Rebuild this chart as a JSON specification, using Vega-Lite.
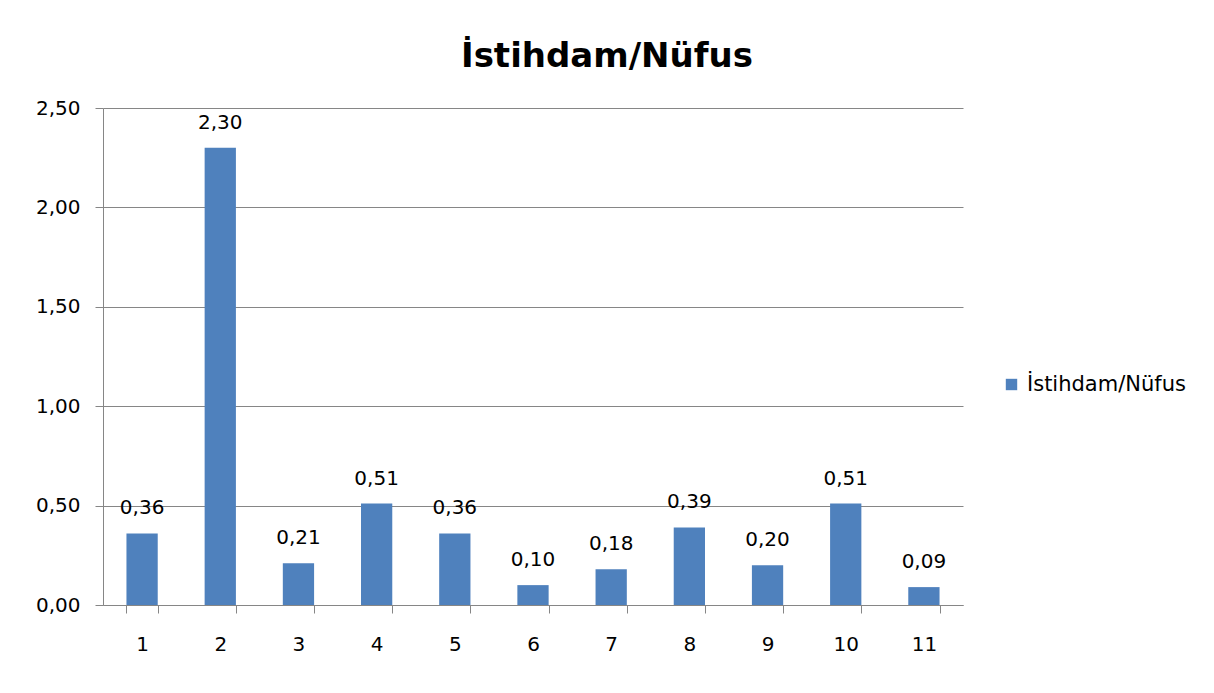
{
  "$schema": "https://vega.github.io/schema/vega-lite/v6.json",
  "autosize": {"type": "none"},
  "width": 860,
  "height": 497,
  "padding": {"left": 103, "top": 108, "right": 251, "bottom": 88},
  "background": "white",
  "title": {
    "text": "İstihdam/Nüfus",
    "font": "DejaVu Sans",
    "fontSize": 34,
    "fontWeight": "bold",
    "color": "#000000",
    "anchor": "middle",
    "dx": 74,
    "offset": 24
  },
  "config": {
    "locale": {"number": {"decimal": ",", "thousands": ".", "grouping": [3], "currency": ["", " TL"]}},
    "view": {"stroke": null},
    "font": "DejaVu Sans"
  },
  "data": {
    "values": [
      {"kategori": "1", "deger": 0.36, "seri": "İstihdam/Nüfus"},
      {"kategori": "2", "deger": 2.30, "seri": "İstihdam/Nüfus"},
      {"kategori": "3", "deger": 0.21, "seri": "İstihdam/Nüfus"},
      {"kategori": "4", "deger": 0.51, "seri": "İstihdam/Nüfus"},
      {"kategori": "5", "deger": 0.36, "seri": "İstihdam/Nüfus"},
      {"kategori": "6", "deger": 0.10, "seri": "İstihdam/Nüfus"},
      {"kategori": "7", "deger": 0.18, "seri": "İstihdam/Nüfus"},
      {"kategori": "8", "deger": 0.39, "seri": "İstihdam/Nüfus"},
      {"kategori": "9", "deger": 0.20, "seri": "İstihdam/Nüfus"},
      {"kategori": "10", "deger": 0.51, "seri": "İstihdam/Nüfus"},
      {"kategori": "11", "deger": 0.09, "seri": "İstihdam/Nüfus"}
    ]
  },
  "encoding": {
    "x": {
      "field": "kategori",
      "type": "ordinal",
      "sort": null,
      "scale": {"paddingInner": 0.6, "paddingOuter": 0.3},
      "axis": {
        "title": null,
        "labelAngle": 0,
        "labelFont": "DejaVu Sans",
        "labelFontSize": 20,
        "labelColor": "#000000",
        "labelPadding": 21,
        "tickBand": "extent",
        "tickSize": 8,
        "tickColor": "#868686",
        "domainColor": "#868686",
        "grid": false
      }
    },
    "y": {
      "field": "deger",
      "type": "quantitative",
      "scale": {"domain": [0, 2.5], "nice": false},
      "axis": {
        "title": null,
        "values": [0, 0.5, 1, 1.5, 2, 2.5],
        "format": ".2f",
        "labelFont": "DejaVu Sans",
        "labelFontSize": 20,
        "labelColor": "#000000",
        "labelPadding": 15,
        "tickSize": 8,
        "tickColor": "#868686",
        "domainColor": "#868686",
        "gridColor": "#868686",
        "grid": true
      }
    }
  },
  "layer": [
    {
      "mark": {"type": "bar", "color": "#4F81BD"},
      "encoding": {
        "color": {
          "field": "seri",
          "type": "nominal",
          "scale": {"range": ["#4F81BD"]},
          "legend": {
            "title": null,
            "orient": "none",
            "legendX": 898,
            "legendY": 266,
            "symbolType": "square",
            "symbolSize": 130,
            "symbolStrokeWidth": 0,
            "labelFont": "DejaVu Sans",
            "labelFontSize": 21,
            "labelColor": "#000000",
            "labelOffset": 5
          }
        }
      }
    },
    {
      "mark": {"type": "text", "baseline": "alphabetic", "dy": -19, "font": "DejaVu Sans", "fontSize": 20, "color": "#000000"},
      "encoding": {
        "text": {"field": "deger", "type": "quantitative", "format": ".2f"}
      }
    }
  ]
}
